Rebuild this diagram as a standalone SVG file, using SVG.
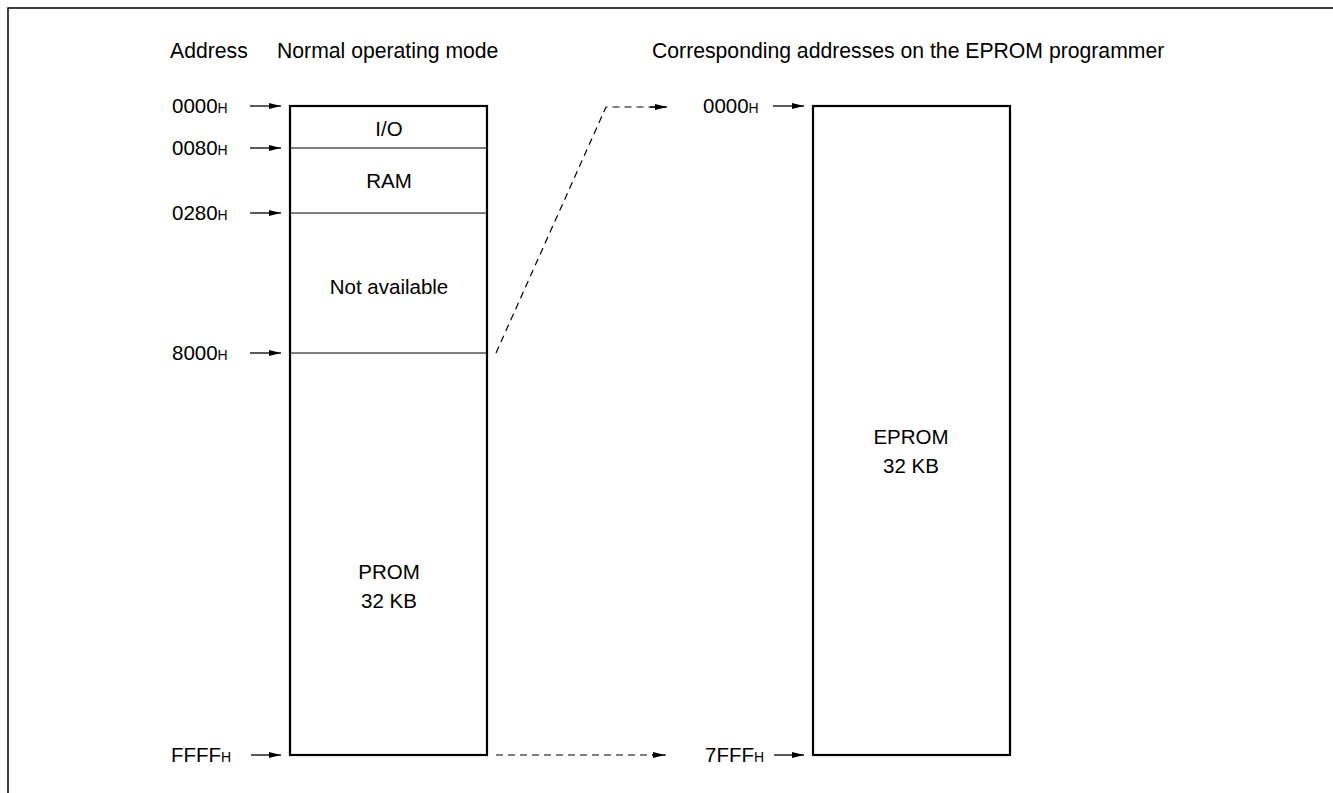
<svg xmlns="http://www.w3.org/2000/svg" width="1333" height="793" viewBox="0 0 1333 793">
<defs>
<marker id="ah" markerWidth="12" markerHeight="6" refX="12" refY="3" orient="auto" markerUnits="userSpaceOnUse">
<path d="M0,0 L12,3 L0,6 Z" fill="#000"/>
</marker>
<style>
text{font-family:"Liberation Sans",Arial,sans-serif;font-size:20.5px;fill:#000}
.h{font-size:21.2px}
.c{text-anchor:middle}
.s{font-size:14px}
.box{fill:#fff;stroke:#000;stroke-width:2.2}
.div{stroke:#000;stroke-width:1.2}
.ar{stroke:#000;stroke-width:1.3;fill:none}
.da{stroke:#000;stroke-width:1.2;fill:none;stroke-dasharray:7,5}
</style>
</defs>
<rect width="1333" height="793" fill="#fff"/>
<path d="M8,793 V8 H1333" fill="none" stroke="#000" stroke-width="1.5"/>
<text class="h" x="170" y="58">Address</text>
<text class="h" x="277" y="58">Normal operating mode</text>
<text class="h" x="652" y="58">Corresponding addresses on the EPROM programmer</text>
<g id="normal">
<rect class="box" x="290" y="106" width="197" height="649"/>
<line class="div" x1="290" y1="148" x2="487" y2="148"/>
<line class="div" x1="290" y1="213" x2="487" y2="213"/>
<line class="div" x1="290" y1="353" x2="487" y2="353"/>
<text class="c" x="389" y="136">I/O</text>
<text class="c" x="389" y="188">RAM</text>
<text class="c" x="389" y="294">Not available</text>
<text class="c" x="389" y="579">PROM</text>
<text class="c" x="389" y="608">32 KB</text>
</g>
<g id="eprom">
<rect class="box" x="813" y="106" width="197" height="649"/>
<text class="c" x="911" y="444">EPROM</text>
<text class="c" x="911" y="473">32 KB</text>
</g>
<g id="addresses">
<text x="172" y="113">0000<tspan class="s">H</tspan></text>
<text x="172" y="155">0080<tspan class="s">H</tspan></text>
<text x="172" y="220">0280<tspan class="s">H</tspan></text>
<text x="172" y="360">8000<tspan class="s">H</tspan></text>
<text x="171" y="762">FFFF<tspan class="s">H</tspan></text>
<text x="703" y="113">0000<tspan class="s">H</tspan></text>
<text x="705" y="762">7FFF<tspan class="s">H</tspan></text>
</g>
<g id="connectors">
<line class="ar" x1="250" y1="106" x2="281" y2="106" marker-end="url(#ah)"/>
<line class="ar" x1="250" y1="148" x2="281" y2="148" marker-end="url(#ah)"/>
<line class="ar" x1="250" y1="213" x2="281" y2="213" marker-end="url(#ah)"/>
<line class="ar" x1="250" y1="353" x2="281" y2="353" marker-end="url(#ah)"/>
<line class="ar" x1="251" y1="755" x2="281" y2="755" marker-end="url(#ah)"/>
<line class="ar" x1="773" y1="106" x2="804" y2="106" marker-end="url(#ah)"/>
<line class="ar" x1="774" y1="755" x2="804" y2="755" marker-end="url(#ah)"/>
<polyline class="da" points="496,353 606,107 666,107"/>
<line class="ar" x1="650" y1="107" x2="667" y2="107" marker-end="url(#ah)"/>
<line class="da" x1="496" y1="755" x2="666" y2="755"/>
<line class="ar" x1="652" y1="755" x2="665" y2="755" marker-end="url(#ah)"/>
</g>
</svg>
